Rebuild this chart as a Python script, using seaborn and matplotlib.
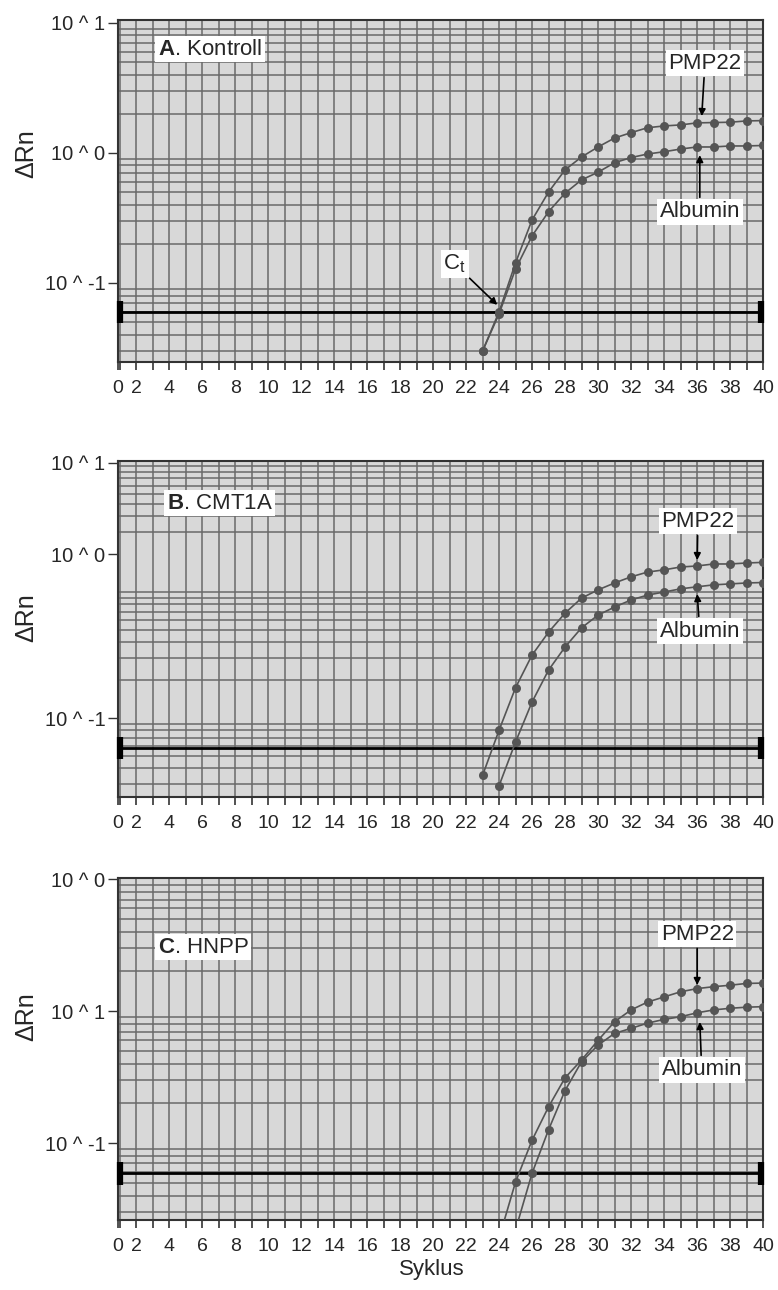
import numpy as np
import pandas as pd
import matplotlib
matplotlib.use("Agg")
import matplotlib.pyplot as plt
import seaborn as sns
from matplotlib.ticker import FixedLocator, LogLocator, NullFormatter

# ---------------- data ----------------
cycles_A = list(range(23, 41))
pmp22_A = [0.030, 0.060, 0.143, 0.305, 0.50, 0.74, 0.93, 1.11, 1.30, 1.43,
           1.56, 1.61, 1.64, 1.70, 1.71, 1.72, 1.76, 1.77]
albumin_A = [0.030, 0.058, 0.128, 0.230, 0.353, 0.49, 0.62, 0.71, 0.84, 0.92,
             0.98, 1.02, 1.07, 1.11, 1.11, 1.13, 1.13, 1.14]

cycles_B_pmp = list(range(23, 41))
pmp22_B = [0.035, 0.080, 0.174, 0.316, 0.48, 0.68, 0.895, 1.04, 1.18, 1.32,
           1.44, 1.50, 1.58, 1.61, 1.67, 1.67, 1.70, 1.72]
cycles_B_alb = list(range(24, 41))
albumin_B = [0.029, 0.0645, 0.134, 0.24, 0.366, 0.52, 0.656, 0.76, 0.865,
             0.946, 1.0, 1.06, 1.10, 1.14, 1.16, 1.18, 1.19]

cycles_C_pmp = list(range(24, 41))
pmp22_C = [0.019, 0.0507, 0.105, 0.188, 0.312, 0.426, 0.60, 0.83, 1.02, 1.17,
           1.28, 1.40, 1.48, 1.53, 1.57, 1.62, 1.63]
cycles_C_alb = list(range(25, 41))
albumin_C = [0.022, 0.059, 0.126, 0.25, 0.413, 0.552, 0.677, 0.74, 0.81,
             0.865, 0.906, 0.97, 1.02, 1.05, 1.07, 1.08]

threshold = [0.060, 0.058, 0.059]

panel_titles = [r"$\mathbf{A}$. Kontroll", r"$\mathbf{B}$. CMT1A", r"$\mathbf{C}$. HNPP"]
ylims = [(0.0247, 10.5), (0.0236, 10.97), (0.0261, 10.2)]
ytick_pos = [[0.1, 1.0, 10.0], [0.1, 2.0, 10.6], [0.1, 1.0, 10.0]]
ytick_labels = [["10 ^ -1", "10 ^ 0", "10 ^ 1"],
                ["10 ^ -1", "10 ^ 0", "10 ^ 1"],
                ["10 ^ -1", "10 ^ 1", "10 ^ 0"]]

xtick_pos = [0.9] + list(range(2, 41, 2))
xtick_labels = ["0"] + [str(v) for v in range(2, 41, 2)]
xminor_pos = list(range(1, 40, 2))

series_names = ["PMP22", "Albumin"]

# ---------------- style ----------------
sns.set_style("ticks")
plt.rcParams["font.family"] = ["Liberation Sans", "DejaVu Sans"]
plt.rcParams["mathtext.fontset"] = "custom"
plt.rcParams["mathtext.rm"] = "Liberation Sans"
plt.rcParams["mathtext.it"] = "Liberation Sans:italic"
plt.rcParams["mathtext.bf"] = "Liberation Sans:bold"

fig = plt.figure(figsize=(7.78, 12.9), dpi=100)
W, H = 778.0, 1290.0
ax_px = [(118, 20, 645, 342), (118, 461, 645, 336), (118, 878, 645, 342)]
axes = [fig.add_axes([x / W, 1 - (y + h) / H, w / W, h / H]) for x, y, w, h in ax_px]

panels = [
    ((cycles_A, pmp22_A), (cycles_A, albumin_A)),
    ((cycles_B_pmp, pmp22_B), (cycles_B_alb, albumin_B)),
    ((cycles_C_pmp, pmp22_C), (cycles_C_alb, albumin_C)),
]

# annotation layout in axes fraction
layout = [
    dict(title=(0.143, 0.915), pmp=(0.910, 0.874), pmp_tip=(0.905, 0.719),
         alb=(0.902, 0.439), alb_tip=(0.902, 0.605)),
    dict(title=(0.158, 0.875), pmp=(0.899, 0.821), pmp_tip=(0.898, 0.705),
         alb=(0.902, 0.494), alb_tip=(0.898, 0.604)),
    dict(title=(0.132, 0.798), pmp=(0.898, 0.836), pmp_tip=(0.898, 0.687),
         alb=(0.905, 0.439), alb_tip=(0.902, 0.579)),
]

line_col = "#555555"
grid_col = "#6a6a6a"
box = dict(boxstyle="square,pad=0.12", fc="white", ec="none")
arrow = dict(arrowstyle="-|>", color="black", lw=1.2, mutation_scale=10,
             shrinkA=1, shrinkB=0)

for i, ax in enumerate(axes):
    (cx_p, v_p), (cx_a, v_a) = panels[i]
    df = pd.DataFrame({
        "Syklus": list(cx_p) + list(cx_a),
        "dRn": list(v_p) + list(v_a),
        "Gen": [series_names[0]] * len(cx_p) + [series_names[1]] * len(cx_a),
    })
    ax.set_facecolor("#d8d8d8")
    ax.set_axisbelow(True)
    sns.lineplot(data=df, x="Syklus", y="dRn", hue="Gen",
                 palette={series_names[0]: line_col, series_names[1]: line_col},
                 marker="o", markersize=6.5, markeredgewidth=0, linewidth=1.2,
                 legend=False, ax=ax, zorder=5, estimator=None)
    ax.set_yscale("log")
    ax.set_ylim(*ylims[i])
    ax.set_xlim(0.9, 40)

    ax.yaxis.set_major_locator(FixedLocator(ytick_pos[i]))
    ax.set_yticklabels(ytick_labels[i])
    ax.yaxis.set_minor_locator(LogLocator(base=10, subs=np.arange(1, 10), numticks=60))
    ax.yaxis.set_minor_formatter(NullFormatter())

    ax.xaxis.set_major_locator(FixedLocator(xtick_pos))
    ax.set_xticklabels(xtick_labels)
    ax.xaxis.set_minor_locator(FixedLocator(xminor_pos))

    ax.grid(visible=True, which="minor", axis="y", color=grid_col, lw=1.1)
    ax.grid(visible=False, which="major", axis="y")
    ax.grid(visible=True, which="both", axis="x", color=grid_col, lw=1.1)

    ax.tick_params(axis="y", which="major", length=7, width=1, color="#333333",
                   labelsize=14.5, pad=2)
    ax.tick_params(axis="y", which="minor", length=0)
    ax.tick_params(axis="x", which="both", length=6, width=1.2, color="#333333",
                   labelsize=14, pad=7)
    ax.set_xlabel("")
    ax.set_ylabel("")
    for s in ax.spines.values():
        s.set_visible(True)
        s.set_color("#333333")
        s.set_linewidth(1.5)

    thr = threshold[i]
    ax.axhline(thr, color="black", lw=2.0, zorder=4)
    for hx in (1.05, 39.85):
        ax.plot([hx, hx], [thr / 1.22, thr * 1.22], color="black", lw=4.5,
                solid_capstyle="butt", clip_on=False, zorder=6)

    L = layout[i]
    ax.text(*L["title"], panel_titles[i], transform=ax.transAxes, ha="center",
            va="center", fontsize=16, bbox=box, zorder=8)
    ax.annotate(series_names[0], xy=L["pmp_tip"], xycoords="axes fraction",
                xytext=L["pmp"], textcoords="axes fraction", ha="center",
                va="center", fontsize=16, bbox=box, arrowprops=arrow, zorder=8)
    ax.annotate(series_names[1], xy=L["alb_tip"], xycoords="axes fraction",
                xytext=L["alb"], textcoords="axes fraction", ha="center",
                va="center", fontsize=16, bbox=box, arrowprops=arrow, zorder=8)

# Ct annotation in panel A
axes[0].annotate(r"$\mathrm{C_t}$", xy=(0.588, 0.167), xycoords="axes fraction",
                 xytext=(0.522, 0.287), textcoords="axes fraction", ha="center",
                 va="center", fontsize=16, bbox=box, arrowprops=arrow, zorder=8)

for yc in (154, 618, 1017):
    fig.text(26 / W, 1 - yc / H, "ΔRn", rotation=90, ha="center", va="center",
             fontsize=18)
fig.text(432 / W, 1 - 1270 / H, "Syklus", ha="center", va="center", fontsize=16)

fig.savefig("out.png", dpi=100)
